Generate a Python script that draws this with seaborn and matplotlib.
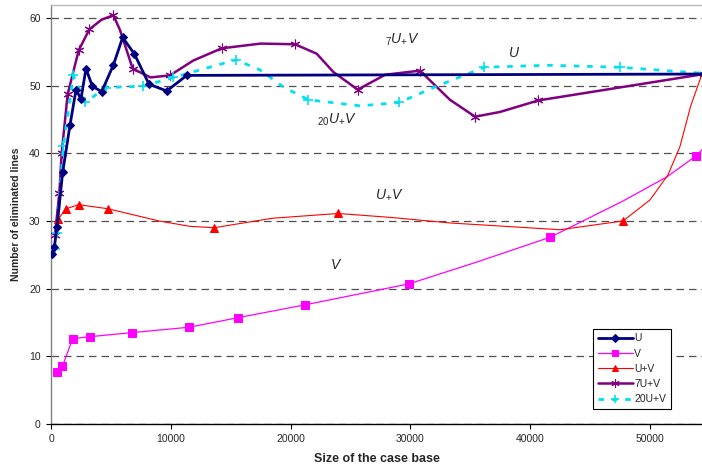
import numpy as np
import pandas as pd
import seaborn as sns
import matplotlib.pyplot as plt

# values
u_x = [100, 275, 500, 975, 1590, 2090, 2500, 2920, 3450, 4230, 5200, 5980, 6950, 8180, 9660, 11330, 54500]
u_y = [25.1, 26.1, 29.1, 37.2, 44.2, 49.4, 48.0, 52.5, 49.9, 49.1, 53.0, 57.1, 54.7, 50.2, 49.2, 51.5, 51.7]
u_mark = list(range(len(u_x)))

v_x = [475, 945, 1810, 3255, 6760, 11550, 15580, 21200, 29880, 35500, 41680, 47700, 51400, 53840, 54500]
v_y = [7.7, 8.5, 12.6, 12.9, 13.5, 14.3, 15.7, 17.6, 20.7, 23.9, 27.6, 32.9, 36.5, 39.6, 40.8]
v_mark = [0, 1, 2, 3, 4, 5, 6, 7, 8, 10, 13]

uv_x = [610, 1250, 2310, 4760, 9000, 11600, 13630, 18500, 23980, 28500, 33300, 42500, 47750,
        50000, 51500, 52500, 53400, 54500]
uv_y = [30.3, 31.8, 32.4, 31.8, 30.0, 29.2, 29.0, 30.4, 31.1, 30.5, 29.7, 28.7, 30.0,
        33.1, 36.8, 41.0, 47.0, 52.5]
uv_mark = [0, 1, 2, 3, 6, 8, 12]

u7_x = [330, 700, 890, 1390, 2310, 3200, 4200, 5200, 5760, 6820, 8300, 9930, 11880, 14250, 17500,
        20370, 22180, 23570, 25600, 27900, 30800, 33300, 35400, 37480, 40680, 54500]
u7_y = [27.9, 34.2, 40.0, 48.7, 55.2, 58.3, 59.7, 60.4, 58.2, 52.5, 51.2, 51.5, 53.7, 55.5, 56.2,
        56.1, 54.7, 52.0, 49.4, 51.6, 52.2, 47.9, 45.4, 46.1, 47.8, 51.7]
u7_mark = [0, 1, 2, 3, 4, 5, 7, 9, 11, 13, 15, 18, 20, 22, 24, 25]

u20_x = [330, 500, 1030, 1860, 2840, 4590, 7700, 10210, 15440, 17450, 19390, 21480, 25800, 29070,
         32200, 36170, 41500, 47500, 54500]
u20_y = [25.8, 28.2, 41.0, 51.5, 47.5, 49.7, 49.9, 51.2, 53.8, 52.3, 49.8, 47.9, 47.0, 47.5,
         49.9, 52.7, 53.0, 52.7, 51.8]
u20_mark = [0, 1, 2, 3, 4, 5, 6, 7, 8, 11, 13, 15, 17, 18]

sns.set_style("white")
plt.rcParams['font.family'] = ['Liberation Sans', 'DejaVu Sans']
plt.rcParams['mathtext.fontset'] = 'custom'
plt.rcParams['mathtext.rm'] = 'Liberation Sans'
plt.rcParams['mathtext.it'] = 'Liberation Sans:italic'

fig = plt.figure(figsize=(7.02, 4.68), dpi=100)
ax = fig.add_axes([51 / 702, 44 / 468, 1.0 - 51 / 702, 419 / 468])

sns.lineplot(x=u_x, y=u_y, ax=ax, color='#000080', lw=2.0, marker='D', ms=4.5,
             mec='#000080', markevery=u_mark, label='U', zorder=5)
sns.lineplot(x=v_x, y=v_y, ax=ax, color='#FF00FF', lw=0.9, marker='s', ms=5.5,
             mec='#FF00FF', markevery=v_mark, label='V', zorder=4)
sns.lineplot(x=uv_x, y=uv_y, ax=ax, color='#FF0000', lw=0.8, marker='^', ms=5.5,
             mec='#FF0000', markevery=uv_mark, label='U+V', zorder=4)
sns.lineplot(x=u7_x, y=u7_y, ax=ax, color='#800080', lw=1.8, marker=(6, 2, 0), ms=7,
             mew=0.8, mec='#800080', markevery=u7_mark, label='7U+V', zorder=3)
sns.lineplot(x=u20_x, y=u20_y, ax=ax, color='#00E0F0', lw=2.0, marker='+', ms=6.5,
             mew=1.2, mec='#00E0F0', markevery=u20_mark, label='20U+V', zorder=3)
ax.lines[-1].set_dashes((2, 2.8))

ax.set_xlim(0, 54340)
ax.set_ylim(0, 61.9)
ax.set_xticks(np.arange(0, 50001, 10000))
ax.set_yticks(np.arange(0, 61, 10))
ax.yaxis.grid(True, color='#505050', linestyle=(0, (6, 4)), lw=0.9)
ax.xaxis.grid(False)
ax.tick_params(axis='both', labelsize=7.5, length=3.5, width=0.8, color='black',
               direction='out', bottom=True, left=True, pad=4)

ax.spines['left'].set_color('#808080')
ax.spines['left'].set_linewidth(1.0)
ax.spines['bottom'].set_color('black')
ax.spines['bottom'].set_linewidth(1.0)
ax.spines['top'].set_color('#bbbbbb')
ax.spines['top'].set_linewidth(1.0)
ax.spines['right'].set_visible(False)

ax.set_xlabel('Size of the case base', fontsize=9, fontweight='bold', labelpad=6)
ax.set_ylabel('Number of eliminated lines', fontsize=7.5, fontweight='bold', labelpad=6)

ax.text(27880, 56.7, r'${}_{7}U_{+}V$', fontsize=10, va='center')
ax.text(38150, 54.8, r'$U$', fontsize=10, va='center')
ax.text(22200, 44.9, r'${}_{20}U_{+}V$', fontsize=10, va='center')
ax.text(27050, 33.8, r'$U_{+}V$', fontsize=10, va='center')
ax.text(23290, 23.5, r'$V$', fontsize=10, va='center')

leg = ax.legend(loc='lower left', bbox_to_anchor=(0.8326, 0.0358), fontsize=7.5,
                frameon=True, fancybox=False, edgecolor='black', framealpha=1,
                handlelength=3.4, handletextpad=0.1, labelspacing=0.5,
                borderpad=0.45, borderaxespad=0, markerscale=0.85)
leg.get_frame().set_linewidth(0.8)

fig.savefig('out.png', dpi=100)
